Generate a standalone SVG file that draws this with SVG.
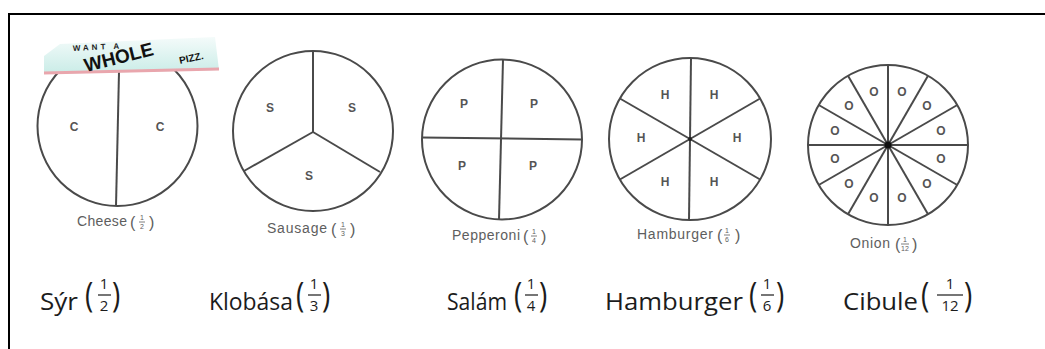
<svg xmlns="http://www.w3.org/2000/svg" width="1045" height="349" viewBox="0 0 1045 349">
<defs>
<linearGradient id="stk" x1="0" y1="0" x2="0" y2="1">
<stop offset="0" stop-color="#f4fbfa"/>
<stop offset="1" stop-color="#c9ece7"/>
</linearGradient>
</defs>
<style>
.pie{fill:#fff;stroke:#4a4a4a;stroke-width:2}
.sp{stroke:#4a4a4a;stroke-width:2;fill:none}
.lt{font-family:"Liberation Sans",Arial,sans-serif;font-size:12px;fill:#555;font-weight:bold;text-anchor:middle}
.on{font-family:"Liberation Sans",Arial,sans-serif;font-size:12px;fill:#555;font-weight:bold;text-anchor:middle}
.sm{font-family:"Liberation Sans",Arial,sans-serif;font-size:14px;fill:#5e5e5e}
.smp{font-family:"Liberation Sans",Arial,sans-serif;font-size:16px;fill:#5e5e5e}
.smf{font-family:"Liberation Sans",Arial,sans-serif;font-size:7px;fill:#5e5e5e;text-anchor:middle}
.smb{stroke:#5e5e5e;stroke-width:0.8}
.big{font-family:"Open Sans",Lato,sans-serif;font-size:24px;fill:#1c1c1c}
.par{font-family:"Open Sans",Lato,sans-serif;font-size:28px;fill:#1c1c1c}
.fr{font-family:"Open Sans",Lato,sans-serif;font-size:15px;fill:#1c1c1c;text-anchor:middle}
.bar{stroke:#1c1c1c;stroke-width:1.2}
</style>
<rect x="0" y="0" width="1045" height="349" fill="#fff"/>
<g id="frame">
<line x1="9" y1="14" x2="1045" y2="14" stroke="#000" stroke-width="2"/>
<line x1="9" y1="13" x2="9" y2="349" stroke="#000" stroke-width="2"/>
</g>

<g id="cheese">
<circle class="pie" cx="117.5" cy="126" r="80"/>
<line class="sp" x1="119" y1="72" x2="116" y2="206"/>
<text class="lt" x="74" y="131">C</text>
<text class="lt" x="160" y="131">C</text>
<polygon points="44,56 60,44 215,37 219,70 44,74" fill="url(#stk)"/>
<line x1="44" y1="73" x2="219" y2="69" stroke="#e9a6ad" stroke-width="3"/>
<text x="73" y="51" font-family="Liberation Sans,Arial,sans-serif" font-size="8" font-weight="bold" letter-spacing="3" fill="#222" transform="rotate(-3 73 51)">WANT A</text>
<text x="86" y="72" font-family="Liberation Sans,Arial,sans-serif" font-size="19" font-weight="bold" fill="#111" transform="rotate(-14 86 72)">WHOLE</text>
<text x="180" y="64" font-family="Liberation Sans,Arial,sans-serif" font-size="10" font-weight="bold" fill="#111" transform="rotate(-12 180 64)">PIZZ.</text>
<text class="sm" x="77" y="226" textLength="50">Cheese</text>
<text class="smp" x="130" y="228">(</text>
<text class="smf" x="142" y="220">1</text>
<line class="smb" x1="139" y1="222" x2="145" y2="222"/>
<text class="smf" x="142" y="229">2</text>
<text class="smp" x="149" y="228">)</text>
</g>

<g id="sausage">
<circle class="pie" cx="313" cy="131" r="80"/>
<line class="sp" x1="313" y1="132" x2="313" y2="51"/>
<line class="sp" x1="313" y1="132" x2="244" y2="171"/>
<line class="sp" x1="313" y1="132" x2="380" y2="172"/>
<text class="lt" x="270" y="112">S</text>
<text class="lt" x="352" y="112">S</text>
<text class="lt" x="309" y="180">S</text>
<text class="sm" x="267" y="233" textLength="60">Sausage</text>
<text class="smp" x="331" y="235">(</text>
<text class="smf" x="343" y="227">1</text>
<line class="smb" x1="340" y1="229" x2="346" y2="229"/>
<text class="smf" x="343" y="236">3</text>
<text class="smp" x="350" y="235">)</text>
</g>

<g id="pepperoni">
<circle class="pie" cx="502" cy="139.5" r="80"/>
<line class="sp" x1="422" y1="137.5" x2="582" y2="139.5"/>
<line class="sp" x1="503" y1="59.5" x2="499" y2="219.5"/>
<text class="lt" x="464" y="108">P</text>
<text class="lt" x="534" y="108">P</text>
<text class="lt" x="462" y="170">P</text>
<text class="lt" x="533" y="170">P</text>
<text class="sm" x="452" y="240" textLength="68">Pepperoni</text>
<text class="smp" x="523" y="242">(</text>
<text class="smf" x="534" y="234">1</text>
<line class="smb" x1="531" y1="236" x2="537" y2="236"/>
<text class="smf" x="534" y="243">4</text>
<text class="smp" x="541" y="242">)</text>
</g>

<g id="hamburger">
<circle class="pie" cx="690" cy="139" r="81"/>
<line class="sp" x1="691" y1="58" x2="689" y2="220"/>
<line class="sp" x1="619.9" y1="179.5" x2="760.1" y2="98.5"/>
<line class="sp" x1="619.9" y1="98.5" x2="760.1" y2="179.5"/>
<circle cx="690" cy="139" r="2" fill="#222"/>
<text class="lt" x="665" y="99">H</text>
<text class="lt" x="714" y="99">H</text>
<text class="lt" x="641" y="142">H</text>
<text class="lt" x="737" y="142">H</text>
<text class="lt" x="665" y="186">H</text>
<text class="lt" x="714" y="186">H</text>
<text class="sm" x="637" y="239" textLength="76">Hamburger</text>
<text class="smp" x="717" y="241">(</text>
<text class="smf" x="727" y="233">1</text>
<line class="smb" x1="724" y1="235" x2="730" y2="235"/>
<text class="smf" x="727" y="242">6</text>
<text class="smp" x="735" y="241">)</text>
</g>

<g id="onion">
<circle class="pie" cx="888" cy="145" r="80"/>
<line class="sp" x1="808" y1="145" x2="968" y2="145"/>
<line class="sp" x1="818.7" y1="185" x2="957.3" y2="105"/>
<line class="sp" x1="848" y1="214.3" x2="928" y2="75.7"/>
<line class="sp" x1="888" y1="65" x2="888" y2="225"/>
<line class="sp" x1="848" y1="75.7" x2="928" y2="214.3"/>
<line class="sp" x1="818.7" y1="105" x2="957.3" y2="185"/>
<circle cx="888" cy="145" r="3.5" fill="#111"/>
<text class="on" x="874" y="96">O</text>
<text class="on" x="902" y="96">O</text>
<text class="on" x="849" y="110">O</text>
<text class="on" x="927" y="110">O</text>
<text class="on" x="835" y="135">O</text>
<text class="on" x="941" y="135">O</text>
<text class="on" x="835" y="163">O</text>
<text class="on" x="941" y="163">O</text>
<text class="on" x="849" y="188">O</text>
<text class="on" x="927" y="188">O</text>
<text class="on" x="874" y="202">O</text>
<text class="on" x="902" y="202">O</text>
<text class="sm" x="850" y="248" textLength="40">Onion</text>
<text class="smp" x="895" y="250">(</text>
<text class="smf" x="905" y="242">1</text>
<line class="smb" x1="901" y1="244" x2="909" y2="244"/>
<text class="smf" x="905" y="251">12</text>
<text class="smp" x="912" y="250">)</text>
</g>

<g id="labels">
<g id="label-syr">
<text class="big" x="40" y="310" textLength="38" lengthAdjust="spacingAndGlyphs">Sýr</text>
<text class="par" x="85" y="245.3" transform="scale(1 1.25)">(</text>
<text class="fr" x="104" y="289">1</text>
<line class="bar" x1="98" y1="295" x2="111" y2="295"/>
<text class="fr" x="104" y="311">2</text>
<text class="par" x="112" y="245.3" transform="scale(1 1.25)">)</text>
</g>
<g id="label-klobasa">
<text class="big" x="209" y="310" textLength="84" lengthAdjust="spacingAndGlyphs">Klobása</text>
<text class="par" x="296" y="245.3" transform="scale(1 1.25)">(</text>
<text class="fr" x="314" y="289">1</text>
<line class="bar" x1="308" y1="295" x2="321" y2="295"/>
<text class="fr" x="314" y="311">3</text>
<text class="par" x="322" y="245.3" transform="scale(1 1.25)">)</text>
</g>
<g id="label-salam">
<text class="big" x="447" y="310" textLength="60" lengthAdjust="spacingAndGlyphs">Salám</text>
<text class="par" x="514" y="245.3" transform="scale(1 1.25)">(</text>
<text class="fr" x="531" y="289">1</text>
<line class="bar" x1="525" y1="295" x2="538" y2="295"/>
<text class="fr" x="531" y="311">4</text>
<text class="par" x="539" y="245.3" transform="scale(1 1.25)">)</text>
</g>
<g id="label-hamburger">
<text class="big" x="605" y="310" textLength="138" lengthAdjust="spacingAndGlyphs">Hamburger</text>
<text class="par" x="749" y="245.3" transform="scale(1 1.25)">(</text>
<text class="fr" x="767" y="289">1</text>
<line class="bar" x1="761" y1="295" x2="774" y2="295"/>
<text class="fr" x="767" y="311">6</text>
<text class="par" x="776" y="245.3" transform="scale(1 1.25)">)</text>
</g>
<g id="label-cibule">
<text class="big" x="843" y="310" textLength="75" lengthAdjust="spacingAndGlyphs">Cibule</text>
<text class="par" x="921" y="245.3" transform="scale(1 1.25)">(</text>
<text class="fr" x="950" y="289">1</text>
<line class="bar" x1="937" y1="295" x2="963" y2="295"/>
<text class="fr" x="950" y="311">12</text>
<text class="par" x="964" y="245.3" transform="scale(1 1.25)">)</text>
</g>
</g>
</svg>
